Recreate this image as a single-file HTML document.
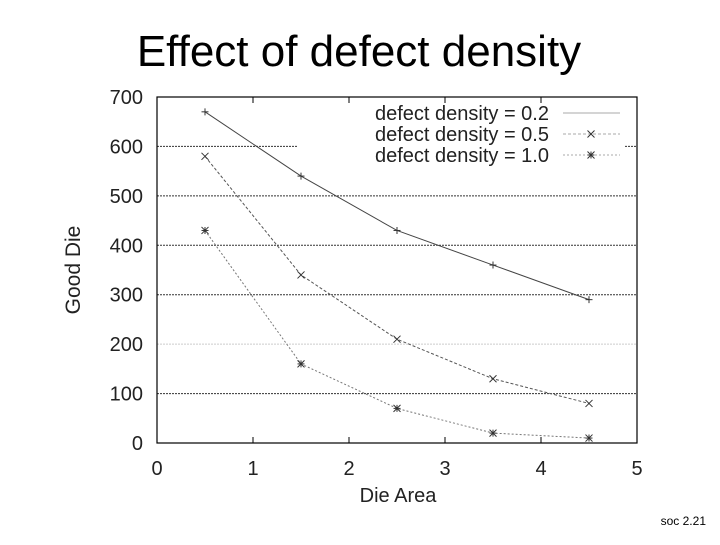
<!DOCTYPE html>
<html><head><meta charset="utf-8"><style>
body{margin:0;width:720px;height:540px;background:#fff;overflow:hidden;font-family:"Liberation Sans",sans-serif}
</style></head><body>
<svg width="720" height="540" font-family="Liberation Sans, sans-serif">
<text x="359" y="66" font-size="44" text-anchor="middle">Effect of defect density</text>
<g id="grid"></g>
<rect x="157" y="97" width="480" height="346" fill="none" stroke="#000" stroke-width="1.2"/>
<g id="axes" font-size="20" fill="#222"></g>
<g id="series"></g>
<g id="legend" font-size="20"></g>
<text x="398" y="502" font-size="20" text-anchor="middle" fill="#222">Die Area</text>
<text transform="translate(80,270) rotate(-90)" font-size="21" text-anchor="middle" fill="#222">Good Die</text>
<text x="706" y="525" font-size="12" text-anchor="end">soc 2.21</text>
</svg>
<script>
const xCategories=[0.5,1.5,2.5,3.5,4.5];
const series02=[670,540,430,360,290];
const series05=[580,340,210,130,80];
const series10=[430,160,70,20,10];
const xTicks=[0,1,2,3,4,5];
const yTicks=[0,100,200,300,400,500,600,700];
const legendLabels=["defect density = 0.2","defect density = 0.5","defect density = 1.0"];
const NS="http://www.w3.org/2000/svg";
const X=v=>157+v*96, Y=v=>443-v*346/700;
function mk(t,a,p){const e=document.createElementNS(NS,t);for(const k in a)e.setAttribute(k,a[k]);p.appendChild(e);return e;}
const grid=document.getElementById('grid'),axes=document.getElementById('axes'),ser=document.getElementById('series'),leg=document.getElementById('legend');
yTicks.forEach(v=>{
 if(v>0&&v<700){
  const x2=v===600?297:637;
  const g=mk('line',{x1:157,x2:x2,y1:Y(v),y2:Y(v),stroke:v===200?'#ccc':'#333','stroke-width':1,'stroke-dasharray':'2,1'},grid);
  
  
  if(v===600){const g2=mk('line',{x1:625,x2:637,y1:Y(v),y2:Y(v),stroke:'#333','stroke-dasharray':'2,1'},grid);
  
  }
 }
 const t=mk('text',{x:143,y:Y(v)+7,'text-anchor':'end'},axes);t.textContent=v;
 
 
});
xTicks.forEach(v=>{
 const t=mk('text',{x:X(v),y:475,'text-anchor':'middle'},axes);t.textContent=v;
 
 
 mk('line',{x1:X(v),x2:X(v),y1:443,y2:437,stroke:'#000'},axes);
 mk('line',{x1:X(v),x2:X(v),y1:97,y2:103,stroke:'#000'},axes);
});
function marker(type,x,y,p){
 const s=3.5,st={stroke:'#333','stroke-width':1};
 if(type!=='x'){mk('line',Object.assign({x1:x-s,x2:x+s,y1:y,y2:y},st),p);mk('line',Object.assign({x1:x,x2:x,y1:y-s,y2:y+s},st),p);}
 if(type!=='+'){mk('line',Object.assign({x1:x-s,x2:x+s,y1:y-s,y2:y+s},st),p);mk('line',Object.assign({x1:x-s,x2:x+s,y1:y+s,y2:y-s},st),p);}
}
const all=[[series02,'+','none','#444','series-density-0.2'],[series05,'x','3,2','#555','series-density-0.5'],[series10,'*','2,2','#777','series-density-1.0']];
all.forEach(([d,m,dash,col,name],i)=>{
 const g=mk('g',{},ser);
 
 
 mk('polyline',{points:d.map((v,j)=>X(xCategories[j])+','+Y(v)).join(' '),fill:'none',stroke:col,'stroke-width':1,'stroke-dasharray':dash},g);
 d.forEach((v,j)=>marker(m,X(xCategories[j]),Y(v),g));
 const ly=113+i*21;
 const t=mk('text',{x:549,y:ly+7,'text-anchor':'end',fill:'#222'},leg);t.textContent=legendLabels[i];
 
 
 mk('line',{x1:563,x2:620,y1:ly,y2:ly,stroke:'#aaa','stroke-dasharray':dash},leg);
 if(i>0)marker(m,591,ly,leg);
});
</script>
</body></html>
